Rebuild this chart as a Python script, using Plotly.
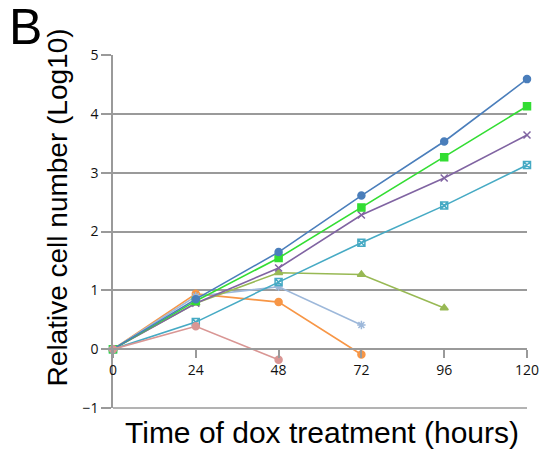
import plotly.graph_objects as go

hours = [0, 24, 48, 72, 96, 120]

s_blue = [0, 0.85, 1.65, 2.61, 3.53, 4.59]
s_green = [0, 0.82, 1.55, 2.41, 3.26, 4.13]
s_purple = [0, 0.78, 1.38, 2.28, 2.91, 3.64]
s_teal = [0, 0.46, 1.14, 1.81, 2.44, 3.13]
s_olive = [0, 0.78, 1.30, 1.27, 0.70]
s_lightblue = [0, 0.90, 1.06, 0.41]
s_orange = [0, 0.94, 0.80, -0.09]
s_pink = [0, 0.39, -0.18]

series = [
    (s_orange, "#F79646", "circle"),
    (s_lightblue, "#9DB8DA", "asterisk-open"),
    (s_olive, "#98B954", "triangle-up"),
    (s_teal, "#46AAC4", "square-x-open"),
    (s_purple, "#8064A2", "x-thin-open"),
    (s_green, "#33DD33", "square"),
    (s_blue, "#4A7EBB", "circle"),
    (s_pink, "#D99694", "circle"),
]

fig = go.Figure()
for vals, col, sym in series:
    fig.add_trace(go.Scatter(
        x=hours[:len(vals)], y=vals, mode="lines+markers",
        line=dict(color=col, width=1.6),
        marker=dict(color=col, symbol=sym, size=7,
                    line=dict(color=col, width=1.5)),
        cliponaxis=False, showlegend=False,
    ))

grid = "#9A9A9A"
fig.update_layout(
    width=551, height=450,
    margin=dict(l=113, r=21, t=55, b=42),
    paper_bgcolor="white", plot_bgcolor="white",
    xaxis=dict(
        range=[0, 120], tickvals=[0, 24, 48, 72, 96, 120],
        anchor="free", position=1/6,
        showgrid=False, zeroline=False,
        showline=True, linecolor=grid, linewidth=1.5,
        ticks="outside", ticklen=8, tickwidth=1.5, tickcolor=grid,
        tickfont=dict(family="Open Sans", size=14, color="#111"),
    ),
    yaxis=dict(
        range=[-1, 5], tickvals=[-1, 0, 1, 2, 3, 4, 5],
        showgrid=True, gridcolor=grid, gridwidth=1.5,
        zeroline=False,
        showline=True, linecolor=grid, linewidth=1.5,
        ticks="outside", ticklen=10, tickwidth=1.5, tickcolor=grid,
        tickfont=dict(family="Open Sans", size=14, color="#111"),
    ),
    shapes=[dict(type="line", xref="paper", yref="paper", x0=0, x1=1, y0=0, y1=0,
                 line=dict(color=grid, width=1.5), layer="below")],
    annotations=[
        dict(text="B", x=-107/417, y=1 + 58/353, xref="paper", yref="paper",
             showarrow=False, xanchor="left", yanchor="top",
             font=dict(family="Liberation Sans", size=50, color="black")),
        dict(text="Relative cell number (Log10)", x=-56/417, y=(408-207)/353,
             xref="paper", yref="paper", showarrow=False, textangle=-90,
             xanchor="center", yanchor="middle",
             font=dict(family="Liberation Sans", size=28, color="black")),
        dict(text="Time of dox treatment (hours)", x=(324-113)/417, y=-(432-408)/353,
             xref="paper", yref="paper", showarrow=False,
             xanchor="center", yanchor="middle",
             font=dict(family="Liberation Sans", size=30, color="black")),
    ],
)

fig.write_html("out.html")
